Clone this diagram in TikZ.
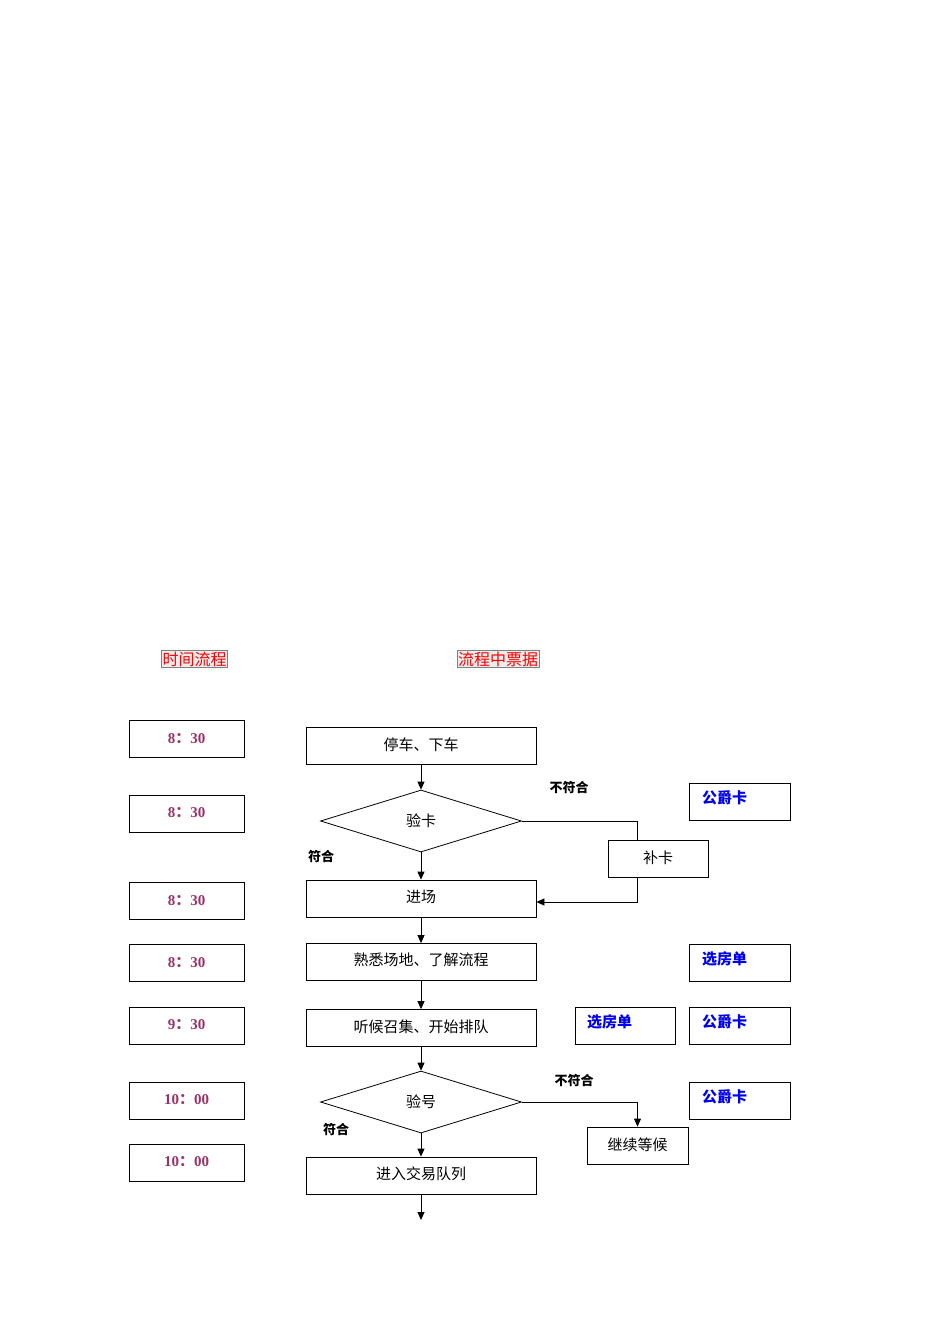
\documentclass[tikz,border=0pt]{standalone}
\usepackage{fontspec}
\setmainfont{Liberation Serif}
\newfontfamily\cjk{Noto Sans CJK SC}
\usetikzlibrary{shapes.geometric,arrows.meta}
\definecolor{tcol}{HTML}{993366}
\definecolor{bcol}{HTML}{0000EE}
\tikzset{x=1pt,y=-1pt,
 box/.style={draw,thick,minimum height=37pt,inner sep=0pt},
 tbox/.style={box,minimum width=115pt,text=tcol,font=\bfseries\fontsize{15}{16}\selectfont},
 mbox/.style={box,minimum width=230pt,font=\cjk\fontsize{15}{16}\selectfont},
 dia/.style={draw,thick,diamond,aspect=3.25,minimum width=201pt,minimum height=62pt,inner sep=0pt,font=\cjk\fontsize{15}{16}\selectfont},
 sbox/.style={box,minimum width=100pt,font=\cjk\fontsize{15}{16}\selectfont},
 bbox/.style={box,minimum width=101pt},
 btxt/.style={text=bcol,font=\cjk\bfseries\fontsize{15}{16}\selectfont,anchor=west},
 lbl/.style={font=\cjk\bfseries\fontsize{13}{14}\selectfont},
 hdr/.style={draw=gray,fill=gray!15,text=red,inner sep=1pt,font=\cjk\fontsize{16}{18}\selectfont},
 arr/.style={-{Triangle[length=8pt,width=7pt]},thick}}
\newcommand{\tm}[2]{#1{\cjk ：}#2}
\begin{document}
\begin{tikzpicture}
\useasboundingbox (0,0) rectangle (950,1344);
\node[hdr] (h1) at (194.5,659) {时间流程};
\node[hdr] (h2) at (498,659) {流程中票据};
\node[tbox] (t1) at (186.5,739) {\raisebox{2pt}{\tm{8}{30}}};
\node[tbox] (t2) at (186.5,813.5) {\raisebox{2pt}{\tm{8}{30}}};
\node[tbox] (t3) at (186.5,901) {\raisebox{2pt}{\tm{8}{30}}};
\node[tbox] (t4) at (186.5,963) {\raisebox{2pt}{\tm{8}{30}}};
\node[tbox] (t5) at (186.5,1025.5) {\raisebox{2pt}{\tm{9}{30}}};
\node[tbox] (t6) at (186.5,1100.5) {\raisebox{2pt}{\tm{10}{00}}};
\node[tbox] (t7) at (186.5,1162.5) {\raisebox{2pt}{\tm{10}{00}}};
\node[mbox] (m1) at (421,746) {\raisebox{3pt}{停车、下车}};
\node[dia] (d1) at (421,821) {验卡};
\node[mbox] (m2) at (421,898.5) {\raisebox{5pt}{进场}};
\node[mbox] (m3) at (421,962) {\raisebox{5pt}{熟悉场地、了解流程}};
\node[mbox] (m4) at (421,1028) {\raisebox{4pt}{听候召集、开始排队}};
\node[dia] (d2) at (421,1102) {验号};
\node[mbox] (m5) at (421,1175.5) {\raisebox{4pt}{进入交易队列}};
\coordinate (end) at (421,1220);
\node[sbox] (bk) at (658,858.5) {\raisebox{3pt}{补卡}};
\coordinate (bkt) at (637,840);
\coordinate (bkb) at (637,877);
\node[sbox,minimum width=101pt] (jx) at (637.5,1145.5) {\raisebox{3pt}{继续等候}};
\node[bbox] (g1) at (739.5,801.5) {};
\node[bbox] (x1) at (739.5,963) {};
\node[bbox,minimum width=100pt] (x2) at (625,1025.5) {};
\node[bbox] (g2) at (739.5,1025.5) {};
\node[bbox] (g3) at (739.5,1100.5) {};
\foreach \n/\t in {g1/公爵卡,x1/选房单,g2/公爵卡,g3/公爵卡}
  \node[btxt] at ([xshift=10pt,yshift=4pt]\n.west) {\t};
\node[btxt] at ([xshift=9pt,yshift=4pt]x2.west) {选房单};
\node[lbl] (l1) at (569,788) {不符合};
\node[lbl] (l2) at (321,857) {符合};
\node[lbl] (l3) at (574,1081) {不符合};
\node[lbl] (l4) at (336,1130) {符合};
\draw[arr] (m1) -- (d1);
\draw[arr] (d1) -- (m2);
\draw[arr] (m2) -- (m3);
\draw[arr] (m3) -- (m4);
\draw[arr] (m4) -- (d2);
\draw[arr] (d2) -- (m5);
\draw[arr] (m5) -- (end);
\draw[thick] (d1.east) -| (bkt);
\draw[arr] (bkb) |- (m2.east |- 0,902);
\draw[arr] (d2.east) -| (jx.north);
\end{tikzpicture}
\end{document}
